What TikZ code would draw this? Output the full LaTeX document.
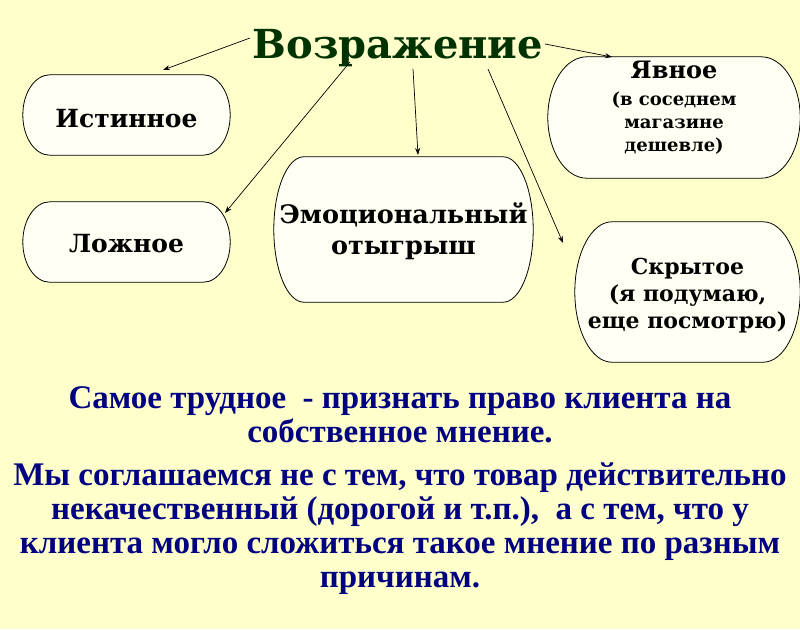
\documentclass[tikz,border=0pt]{standalone}
\usepackage{fontspec}
\setmainfont{DejaVu Serif}
\newfontfamily\notefont{Liberation Serif}
\usetikzlibrary{arrows.meta,backgrounds,calc}

\definecolor{pagebg}{RGB}{255,255,204}
\definecolor{boxfill}{RGB}{255,255,243}
\definecolor{titlegreen}{RGB}{0,51,0}
\definecolor{notenavy}{RGB}{0,0,128}

\tikzset{
  boxnode/.style={inner sep=0pt, align=center, font=\bfseries\fontsize{25}{31}\selectfont},
  boxline/.style={draw=black, fill=boxfill, line width=0.8pt},
  arr/.style={-{Stealth[length=7pt,width=5pt]}, line width=0.7pt},
  note/.style={align=center, text=notenavy, font=\notefont\bfseries\fontsize{33}{34}\selectfont},
}

\begin{document}
\begin{tikzpicture}[x=1pt,y=-1pt]
\useasboundingbox (0,0) rectangle (800,629);

% title
\node[text=titlegreen, font=\bfseries\fontsize{40}{42}\selectfont] (vozr) at (398,48) {Возражение};

% kinds of objection
\node[boxnode, minimum width=207, minimum height=80] (ist) at (126.5,119) {Истинное};
\node[boxnode, minimum width=207, minimum height=80] (lozh) at (126.5,244) {Ложное};
\node[boxnode, minimum width=259, minimum height=145, font=\bfseries\fontsize{25.5}{31}\selectfont] (emo) at (403.5,231.5) {Эмоциональный\\отыгрыш};
\node[boxnode, minimum width=252, minimum height=121, font=\bfseries\fontsize{18}{23}\selectfont] (yav) at (674,108)
  {{\fontsize{24}{24}\selectfont Явное}\\[4pt](в соседнем\\магазине\\дешевле)};
\node[boxnode, minimum width=225, minimum height=140, font=\bfseries\fontsize{22}{27}\selectfont] (skr) at (687.5,296)
  {Скрытое\\(я подумаю,\\еще посмотрю)};

% outlines behind the text
\begin{scope}[on background layer]
\fill[pagebg] (0,0) rectangle (800,629);
\foreach \bx/\rx/\dy in {ist/27/4, lozh/27/2, emo/30/2, yav/39/-9.5, skr/37/4}
  \draw[boxline] let \p1=([yshift=\dy pt]\bx.north west), \p2=([yshift=\dy pt]\bx.south east),
      \n1={(\y1-\y2)/2} in
    (\x1+\rx pt,\y1) -- (\x2-\rx pt,\y1)
    arc[start angle=90, end angle=-90, x radius=\rx pt, y radius=\n1]
    -- (\x1+\rx pt,\y2)
    arc[start angle=270, end angle=90, x radius=\rx pt, y radius=\n1] -- cycle;
\end{scope}

% arrows
\draw[arr] ([shift={(-148,-10)}]vozr.center) -- ([shift={(36.5,-49)}]ist.center);
\draw[arr] ([shift={(-48,14)}]vozr.center) -- ([shift={(98.5,-31)}]lozh.center);
\draw[arr] ([shift={(15,21)}]vozr.center) -- ([shift={(14.5,-76.5)}]emo.center);
\draw[arr] ([shift={(90,21)}]vozr.center) -- ([shift={(-124.5,-53)}]skr.center);
\draw[arr] ([shift={(147,-4)}]vozr.center) -- ([shift={(-62,-51)}]yav.center);

% notes
\node[note] (hard) at (400,415) {Самое трудное~~- признать право клиента на\\собственное мнение.};
\node[note] (agree) at (400,529) {Мы соглашаемся не с тем, что товар действительно\\некачественный (дорогой и т.п.),~~а с тем, что у\\клиента могло сложиться такое мнение по разным\\причинам.};
\end{tikzpicture}
\end{document}
